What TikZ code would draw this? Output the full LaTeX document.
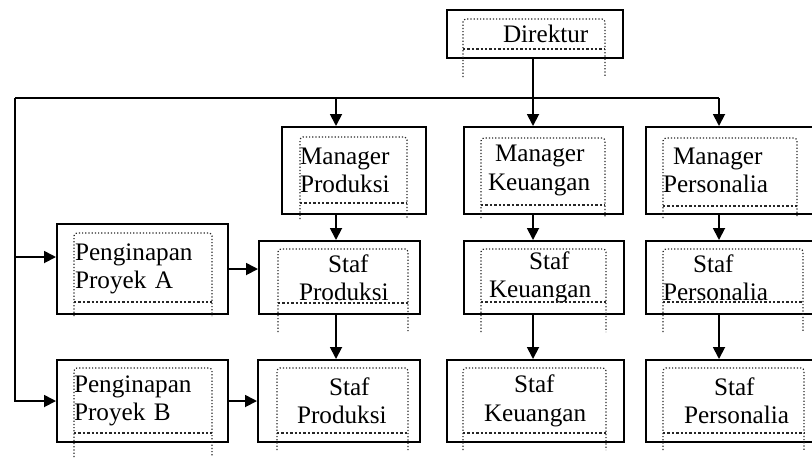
\documentclass[tikz,border=0pt]{standalone}
\usepackage{fontspec}
\setmainfont{Liberation Serif}
\usetikzlibrary{arrows.meta,calc}
\newcommand{\tbframe}[5]{%
  \draw[frm] (#1,#5) -- (#1,#2) -- (#3,#2) -- (#3,#5);
  \draw[frmb] (#1,#4) -- (#3,#4);}
\tikzset{
  box/.style  ={draw=black, line width=1pt, inner sep=0pt, align=left,
                font=\fontsize{12.6}{14.2}\selectfont},
  frm/.style  ={draw=black!85, line width=0.6pt, densely dotted,
                rounded corners=1.5pt},
  frmb/.style ={draw=black!85, line width=1.2pt, densely dotted},
  ar/.style   ={-{Triangle[length=6pt,width=6pt]}, draw=black,
                line width=0.9pt},
  ln/.style   ={draw=black, line width=0.9pt}
}

\begin{document}
\begin{tikzpicture}[x=0.5pt,y=-0.5pt]
\useasboundingbox (0,0) rectangle (812,457);
\node[box, minimum width=88pt, minimum height=24pt, text width=72pt]
  (dir) at (535,34) {\hspace*{20pt}Direktur};
\node[box, minimum width=72pt, minimum height=43.5pt, text width=54pt]
  (mprod) at (354,170.5) {Manager\\Produksi};
\node[box, minimum width=79.5pt, minimum height=43.5pt, text width=62.5pt]
  (mkeu) at (543.5,170.5) {\hspace*{7pt}Manager\\\hspace*{3.5pt}Keuangan};
\node[box, minimum width=85pt, minimum height=43.5pt, text width=68pt]
  (mpers) at (731,170.5) {\hspace*{5pt}Manager\\Personalia};
\node[box, minimum width=85.5pt, minimum height=45pt, text width=67.5pt]
  (pina) at (142.5,269) {Penginapan\\Proyek A};
\node[box, minimum width=80.5pt, minimum height=36.5pt, text width=61.5pt]
  (sprod1) at (339.5,277.5) {\hspace*{25pt}Staf\\\hspace*{10.5pt}Produksi};
\node[box, minimum width=80pt, minimum height=36.5pt, text width=63pt]
  (skeu1) at (544,277.5) {\hspace*{24pt}Staf\\\hspace*{4pt}Keuangan};
\node[box, minimum width=85pt, minimum height=36.5pt, text width=68pt]
  (spers1) at (731,277.5) {\hspace*{15pt}Staf\\Personalia};
\node[box, minimum width=85.5pt, minimum height=41pt, text width=68.5pt]
  (pinb) at (142.5,401) {Penginapan\\Proyek B};
\node[box, minimum width=81pt, minimum height=41pt, text width=62pt]
  (sprod2) at (339,401) {\hspace*{26pt}Staf\\\hspace*{10pt}Produksi};
\node[box, minimum width=88.5pt, minimum height=41pt, text width=72.5pt]
  (skeu2) at (535.5,401) {\hspace*{25.5pt}Staf\\\hspace*{10.5pt}Keuangan};
\node[box, minimum width=85pt, minimum height=41pt, text width=68pt]
  (spers2) at (731,401) {\hspace*{25.5pt}Staf\\\hspace*{10.5pt}Personalia};
\tbframe{463}{19}{605}{49}{77}
\tbframe{300}{137}{407}{203}{219}
\tbframe{481}{138}{605}{205}{218}
\tbframe{663}{138}{797}{206}{218}
\tbframe{74}{233}{212}{302}{316}
\tbframe{278}{249}{408}{303}{332}
\tbframe{481}{249}{606}{302}{332}
\tbframe{663}{249}{803}{302}{332}
\tbframe{74}{368}{212}{433}{457}
\tbframe{277}{368}{408}{433}{450}
\tbframe{463}{368}{606}{433}{450}
\tbframe{663}{368}{804}{433}{450}
\coordinate (jl) at (15,98);
\coordinate (jp) at (336,98);
\coordinate (jm) at (533,98);
\coordinate (jr) at (719,98);
\coordinate (ja) at (15,257);
\draw[ln] (jl) -- (jr);
\draw[ar] (dir.south -| jm) -- (mkeu.north -| jm);
\draw[ar] (jp) -- (mprod.north -| jp);
\draw[ar] (jr) -- (mpers.north -| jr);
\draw[ar] (jl) |- (pinb.west);
\draw[ar] (ja) -- (ja -| pina.west);
\draw[ar] (pina.east) -- (pina.east -| sprod1.west);
\draw[ar] (pinb.east) -- (pinb.east -| sprod2.west);
\draw[ar] (mprod.south -| jp) -- (sprod1.north -| jp);
\draw[ar] (sprod1.south -| jp) -- (sprod2.north -| jp);
\draw[ar] (mkeu.south -| jm) -- (skeu1.north -| jm);
\draw[ar] (skeu1.south -| jm) -- (skeu2.north -| jm);
\draw[ar] (mpers.south -| jr) -- (spers1.north -| jr);
\draw[ar] (spers1.south -| jr) -- (spers2.north -| jr);
\end{tikzpicture}
\end{document}
